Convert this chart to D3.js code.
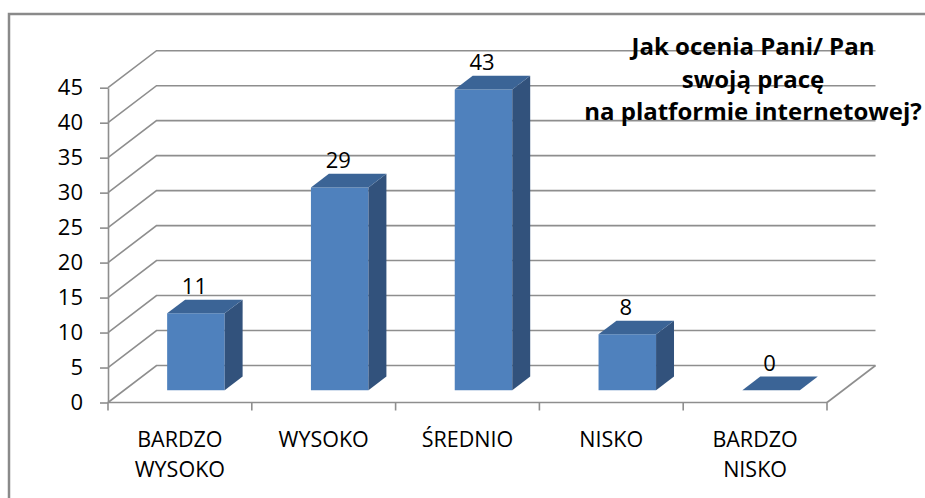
<!DOCTYPE html>
<html>
<head>
<meta charset="utf-8">
<script src="https://cdn.jsdelivr.net/npm/d3@7"></script>
<style>
  body { margin: 0; background: #fff; }
  svg { display: block; font-family: "Open Sans", sans-serif; }
</style>
</head>
<body>
<div id="chart"></div>
<script>
// dane
const categories = ["BARDZO\nWYSOKO", "WYSOKO", "ŚREDNIO", "NISKO", "BARDZO\nNISKO"];
const values = [11, 29, 43, 8, 0];
const yTicks = [0, 5, 10, 15, 20, 25, 30, 35, 40, 45];
const titleLines = ["Jak ocenia Pani/ Pan", "swoją pracę", "na platformie internetowej?"];

const width = 925, height = 498;
const DX = 48.5, DY = 37;      // przesunięcie głębi (ściana tylna)
const d0 = 0.33, d1 = 0.70;    // głębokość słupka

const svg = d3.select("#chart").append("svg")
    .attr("width", width)
    .attr("height", height);

// ramka wykresu
svg.append("path")
    .attr("d", `M9,${height + 5} L9,14 L${width + 5},14`)
    .attr("fill", "none")
    .attr("stroke", "#8a8a8a")
    .attr("stroke-width", 2.5);

const x = d3.scaleBand().domain(categories).range([108, 827]);
const y = d3.scaleLinear().domain([0, 45]).range([402.5, 87.7]);

const P = (xf, yf, d) => [xf + d * DX, yf - d * DY];
const grid = "#8e8e8e";

// siatka: ściana boczna + tylna
const g = svg.append("g");
g.selectAll("path.grid")
    .data(yTicks)
    .enter()
    .append("path")
    .attr("class", "grid")
    .attr("d", t => {
        const a = P(108, y(t), 0), b = P(108, y(t), 1), c = P(827, y(t), 1);
        return `M${a}L${b}L${c}`;
    })
    .attr("fill", "none")
    .attr("stroke", grid)
    .attr("stroke-width", 1.6);

// podłoga - prawa krawędź
g.append("path")
    .attr("d", `M${P(827, y(0), 0)}L${P(827, y(0), 1)}`)
    .attr("stroke", grid)
    .attr("stroke-width", 1.6);

// oś Y
const yAxis = d3.axisLeft(y)
    .tickValues(yTicks)
    .tickSize(8)
    .tickSizeOuter(0)
    .tickPadding(17);

const yG = svg.append("g")
    .attr("transform", "translate(108,0)")
    .call(yAxis);
yG.select(".domain").attr("stroke", grid).attr("stroke-width", 1.6);
yG.selectAll(".tick line").attr("stroke", grid).attr("stroke-width", 1.6);
yG.selectAll(".tick text")
    .attr("fill", "#000")
    .style("font-size", "22px")
    .style("font-family", "Open Sans");

// oś X
svg.append("line")
    .attr("x1", 108).attr("x2", 827)
    .attr("y1", y(0)).attr("y2", y(0))
    .attr("stroke", grid)
    .attr("stroke-width", 1.6);

const edges = categories.map(c => x(c)).concat([x.range()[1]]);
svg.selectAll("line.xtick")
    .data(edges)
    .enter()
    .append("line")
    .attr("class", "xtick")
    .attr("x1", d => d).attr("x2", d => d)
    .attr("y1", y(0)).attr("y2", y(0) + 8)
    .attr("stroke", grid)
    .attr("stroke-width", 1.6);

// etykiety kategorii
const catText = svg.selectAll("text.cat")
    .data(categories)
    .enter()
    .append("text")
    .attr("class", "cat")
    .attr("text-anchor", "middle")
    .style("font-size", "21.5px")
    .attr("fill", "#000");
catText.each(function (c) {
    const cx = x(c) + x.bandwidth() / 2;
    c.split("\n").forEach((line, i) => {
        d3.select(this).append("tspan")
            .attr("x", cx)
            .attr("y", 446.5 + i * 30)
            .text(line);
    });
});

// słupki 3D
const colFront = "#4f81bd", colSide = "#32527c", colTop = "#3b6496";
const bars = svg.selectAll("g.bar")
    .data(values)
    .enter()
    .append("g")
    .attr("class", "bar");

bars.each(function (v, i) {
    const c = categories[i];
    const cx = x(c) + x.bandwidth() / 2;
    const w = x.bandwidth() * 0.4;
    const x0 = cx - w / 2, x1 = cx + w / 2;
    const yt = y(v), yb = y(0);
    const sel = d3.select(this);
    const poly = pts => "M" + pts.map(p => p.join(",")).join("L") + "Z";

    if (v > 0) {
        sel.append("path")
            .attr("d", poly([P(x0, yt, d0), P(x1, yt, d0), P(x1, yb, d0), P(x0, yb, d0)]))
            .attr("fill", colFront);
        sel.append("path")
            .attr("d", poly([P(x1, yt, d0), P(x1, yt, d1), P(x1, yb, d1), P(x1, yb, d0)]))
            .attr("fill", colSide);
    }
    sel.append("path")
        .attr("d", poly([P(x0, yt, d0), P(x1, yt, d0), P(x1, yt, d1), P(x0, yt, d1)]))
        .attr("fill", colTop);

    // wartość
    sel.append("text")
        .attr("x", cx + 0.3 * DX)
        .attr("y", P(cx, yt, d1)[1] - 6)
        .attr("text-anchor", "middle")
        .style("font-size", "22px")
        .attr("fill", "#000")
        .text(v);
});

// tytuł
svg.append("text")
    .attr("text-anchor", "middle")
    .style("font-size", "24px")
    .style("font-weight", "bold")
    .attr("fill", "#000")
    .selectAll("tspan")
    .data(titleLines)
    .enter()
    .append("tspan")
    .attr("x", 753)
    .attr("y", (d, i) => 55 + i * 32.5)
    .text(d => d);
</script>
</body>
</html>
